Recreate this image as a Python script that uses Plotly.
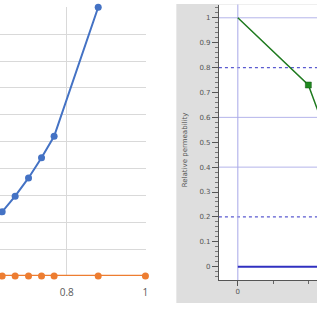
import plotly.graph_objects as go

# ---- left panel data ----
left_x_blue = [0.600, 0.636, 0.669, 0.703, 0.736, 0.768, 0.880]
left_y_blue = [1.9, 2.39, 2.97, 3.65, 4.40, 5.20, 10.0]
left_x_orange = [0.600, 0.636, 0.669, 0.703, 0.736, 0.768, 0.880, 1.000]
left_y_orange = [0, 0, 0, 0, 0, 0, 0, 0]
left_xtick_vals = [0.8, 1.0]
left_xtick_text = ["0.8", "1"]

# ---- right panel data ----
right_x_green = [0.0, 0.20, 0.26]
right_y_green = [1.0, 0.73, 0.50]
right_marker_x = [0.20]
right_marker_y = [0.73]
right_ytick_vals = [0, 0.1, 0.2, 0.3, 0.4, 0.5, 0.6, 0.7, 0.8, 0.9, 1.0]
right_ytick_text = ["0", "0.1", "0.2", "0.3", "0.4", "0.5", "0.6", "0.7", "0.8", "0.9", "1"]
right_xtick_vals = [0]
right_xtick_text = ["0"]
grid_solid = [1.0, 0.6, 0.4]
grid_dotted = [0.8, 0.2]
right_ylabel = "Relative permeability"

W = H = 320.0
X2_RANGE = [-0.0536, 0.2245]

def px_x(p):
    return p / W

def px_y(p):
    return (H - p) / H

fig = go.Figure()

fig.add_trace(go.Scatter(
    x=left_x_orange, y=left_y_orange, mode="lines+markers",
    line=dict(color="#ed7d31", width=2.5),
    marker=dict(color="#ed7d31", size=7),
    cliponaxis=False, xaxis="x", yaxis="y", showlegend=False))
fig.add_trace(go.Scatter(
    x=left_x_blue, y=left_y_blue, mode="lines+markers",
    line=dict(color="#4472c4", width=2),
    marker=dict(color="#4472c4", size=7),
    cliponaxis=False, xaxis="x", yaxis="y", showlegend=False))

fig.add_trace(go.Scatter(
    x=right_x_green, y=right_y_green, mode="lines",
    line=dict(color="#1f7a1f", width=1.5),
    xaxis="x2", yaxis="y2", showlegend=False))
fig.add_trace(go.Scatter(
    x=right_marker_x, y=right_marker_y, mode="markers",
    marker=dict(color="#1f8a1f", size=6, symbol="square",
                line=dict(color="#145214", width=0.5)),
    xaxis="x2", yaxis="y2", showlegend=False))

shapes = []
# gray panel background of the right chart
shapes.append(dict(type="rect", xref="paper", yref="paper",
                   x0=px_x(178), x1=1.0, y0=px_y(303), y1=px_y(4),
                   fillcolor="#dedede", line=dict(width=0), layer="below"))
# white plot area of the right chart
shapes.append(dict(type="rect", xref="x2 domain", yref="y2 domain",
                   x0=0, x1=1, y0=0, y1=1,
                   fillcolor="white", line=dict(width=0), layer="below"))
for v in grid_solid:
    shapes.append(dict(type="line", xref="x2 domain", yref="y2",
                       x0=0, x1=1, y0=v, y1=v,
                       line=dict(color="#b4b4ea", width=1), layer="below"))
for v in grid_dotted:
    shapes.append(dict(type="line", xref="x2 domain", yref="y2",
                       x0=0, x1=1, y0=v, y1=v,
                       line=dict(color="#5a5ad0", width=1.2, dash="dot"), layer="below"))
shapes.append(dict(type="line", xref="x2", yref="y2",
                   x0=0, x1=X2_RANGE[1], y0=0, y1=0,
                   line=dict(color="#3030c0", width=2), layer="below"))
shapes.append(dict(type="line", xref="x2", yref="y2 domain",
                   x0=0, x1=0, y0=0, y1=1,
                   line=dict(color="#a8a8e8", width=1), layer="below"))

fig.update_layout(
    width=320, height=320,
    margin=dict(l=0, r=0, t=0, b=0),
    paper_bgcolor="white", plot_bgcolor="rgba(0,0,0,0)",
    shapes=shapes,
    xaxis=dict(domain=[0, px_x(147)], range=[0.6305, 1.0005],
               tickvals=left_xtick_vals, ticktext=left_xtick_text,
               showgrid=True, gridcolor="#d9d9d9", gridwidth=1,
               zeroline=False, showline=False, ticks="",
               tickfont=dict(family="Open Sans", size=10, color="#595959"),
               ticklabelstandoff=9),
    yaxis=dict(domain=[px_y(276), px_y(7.3)], range=[0, 10], dtick=1,
               showgrid=True, gridcolor="#d9d9d9", gridwidth=1,
               zeroline=False, showline=False, showticklabels=False, ticks=""),
    xaxis2=dict(domain=[px_x(221), 1.0], range=X2_RANGE,
                anchor="y2",
                tickvals=right_xtick_vals, ticktext=right_xtick_text,
                ticks="outside", ticklen=5, tickcolor="#555",
                minor=dict(dtick=0.1, ticklen=3, ticks="outside", tickcolor="#666"),
                showgrid=False, zeroline=False,
                showline=True, linecolor="#555", linewidth=1,
                tickfont=dict(family="DejaVu Sans", size=7, color="#555")),
    yaxis2=dict(domain=[px_y(280), px_y(4.5)], range=[-0.0535, 1.0535],
                anchor="x2",
                tickvals=right_ytick_vals, ticktext=right_ytick_text,
                ticks="outside", ticklen=6, tickcolor="#555",
                minor=dict(dtick=0.02, ticklen=3, ticks="outside", tickcolor="#777"),
                showgrid=False, zeroline=False,
                showline=True, linecolor="#555", linewidth=1,
                tickfont=dict(family="DejaVu Sans", size=7, color="#555")),
    annotations=[dict(text=right_ylabel, xref="paper", yref="paper",
                      x=px_x(187), y=px_y(150), textangle=-90, showarrow=False,
                      font=dict(family="DejaVu Sans", size=7, color="#555"))],
)

fig.write_html("out.html")
